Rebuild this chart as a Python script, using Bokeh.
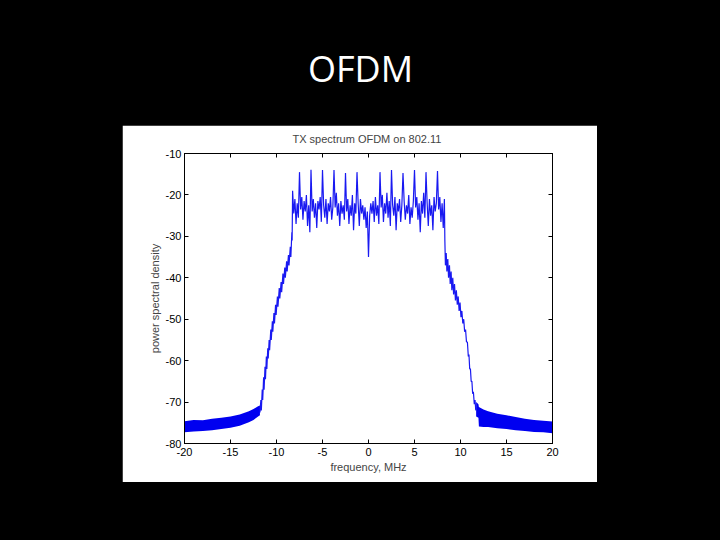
import numpy as np
from bokeh.plotting import figure
from bokeh.models import LinearAxis, Range1d, Spacer, FixedTicker, CustomLabelingPolicy
from bokeh.layouts import column, row
from bokeh.core.properties import value
from bokeh.embed import file_html
from bokeh.resources import INLINE

# ---------------- data ----------------
slide_title = "OFDM"
chart_title = "TX spectrum OFDM  on 802.11"
x_label = "frequency, MHz"
y_label = "power spectral density"
x_ticks = [-20, -15, -10, -5, 0, 5, 10, 15, 20]
y_ticks = [-80, -70, -60, -50, -40, -30, -20, -10]

# left skirt (sawtooth slope)
left_slope_f = [-11.80, -11.70, -11.65, -11.55, -11.50, -11.40, -11.35, -11.25, -11.20, -11.10,
                -11.05, -10.95, -10.90, -10.80, -10.75, -10.62, -10.57, -10.45, -10.40, -10.28,
                -10.22, -10.10, -10.04, -9.90, -9.84, -9.70, -9.64, -9.50, -9.44, -9.30,
                -9.24, -9.10, -9.04, -8.90, -8.84, -8.70, -8.64, -8.50, -8.44, -8.33, -8.30]
left_slope_db = [-72.5, -69.5, -72.0, -67.0, -69.5, -64.0, -67.0, -61.5, -64.5, -59.0,
                 -62.0, -57.0, -59.5, -55.0, -57.5, -52.5, -55.0, -50.5, -53.0, -48.5,
                 -51.0, -46.5, -49.0, -44.5, -47.0, -42.5, -45.0, -41.0, -43.5, -39.0,
                 -41.5, -37.5, -40.0, -36.0, -38.5, -34.5, -37.0, -32.5, -35.0, -29.0, -31.0]

# occupied band, -8.25 .. 8.25 MHz in 0.125 MHz bins
band_db = [
    -19.0, -24.5, -21.0, -27.0, -22.0, -25.5,
    -14.5, -23.5, -20.5, -26.0, -21.5, -24.0, -20.0, -27.5, -22.5, -29.0,
    -13.9, -24.0, -21.0, -25.5, -22.0, -28.0, -21.5, -23.5, -20.5, -26.5,
    -14.0, -22.5, -25.5, -21.0, -27.0, -22.0, -24.0, -20.5, -26.0, -23.0,
    -14.0, -23.0, -19.5, -25.0, -22.0, -27.5, -21.5, -24.5, -22.5, -26.0,
    -14.7, -24.0, -21.0, -27.0, -22.5, -25.0, -20.0, -28.5, -22.0, -24.5,
    -14.5, -22.0, -27.5, -21.0, -24.5, -22.5, -26.0, -23.0, -28.0, -24.0,
    -35.0, -25.0, -22.0, -24.5, -21.5, -26.5, -20.5, -25.0, -22.5, -27.0,
    -14.5, -23.0, -20.0, -26.5, -22.0, -24.5, -19.5, -25.5, -21.5, -27.5,
    -14.0, -22.5, -25.0, -20.5, -28.5, -22.0, -24.0, -21.0, -26.5, -22.5,
    -14.7, -21.5, -26.0, -22.5, -24.5, -20.0, -27.0, -23.0, -25.5, -21.5,
    -14.0, -23.0, -20.5, -26.0, -22.0, -29.0, -21.5, -24.5, -19.5, -25.5,
    -14.5, -22.0, -27.5, -21.0, -25.0, -22.5, -28.5, -20.5, -24.0, -22.0,
    -14.2, -23.5, -20.5, -26.5, -22.0, -28.0, -21.0,
]
band_f = np.linspace(-8.25, 8.25, len(band_db))

# right skirt (sawtooth slope)
right_slope_f = [8.30, 8.36, 8.45, 8.52, 8.62, 8.70, 8.80, 8.88, 8.98, 9.06,
                 9.16, 9.25, 9.35, 9.45, 9.55, 9.65, 9.75, 9.85, 9.95, 10.05,
                 10.15, 10.25, 10.35, 10.45, 10.55, 10.65, 10.75, 10.85, 10.92, 11.00,
                 11.08, 11.16, 11.24, 11.32, 11.40, 11.50, 11.58, 11.66]
right_slope_db = [-31.0, -37.0, -34.0, -38.5, -35.5, -40.0, -37.0, -41.5, -38.5, -43.0,
                  -40.0, -44.0, -41.5, -45.5, -43.0, -46.5, -44.5, -48.0, -46.0, -49.5,
                  -48.0, -51.0, -50.0, -53.0, -52.5, -55.5, -55.5, -59.0, -58.5, -62.0,
                  -62.0, -65.0, -65.0, -68.0, -67.5, -70.5, -69.5, -72.0]

# noise floor (dense noise drawn as its envelope)
left_floor_f = [-20, -19, -18, -17, -16, -15, -14, -13, -12.5, -12, -11.8]
left_floor_hi = [-74.6, -74.3, -74.4, -74.0, -73.8, -73.5, -73.0, -72.2, -71.7, -71.0, -70.8]
left_floor_lo = [-77.3, -77.1, -77.0, -76.8, -76.5, -76.2, -75.7, -74.9, -74.3, -73.5, -73.2]

right_floor_f = [11.7, 11.95, 12.0, 12.5, 13, 14, 15, 16, 17, 18, 19, 20]
right_floor_hi = [-70.0, -70.5, -71.2, -71.8, -72.2, -72.8, -73.2, -73.6, -74.0, -74.3, -74.5, -74.7]
right_floor_lo = [-73.5, -73.8, -75.9, -76.0, -76.0, -76.3, -76.5, -76.8, -77.0, -77.2, -77.3, -77.5]

# ---------------- styling ----------------
FONT = "Liberation Sans"
BLUE = "#0000f0"

# slide title strip
top = figure(width=720, height=125, toolbar_location=None, output_backend="svg",
             x_range=Range1d(0, 720), y_range=Range1d(125, 0), min_border=0,
             background_fill_color="black", border_fill_color="black",
             outline_line_color=None)
top.axis.visible = False
top.grid.visible = False
top.text(x=[360], y=[68], text=[slide_title], text_align="center",
         text_baseline="middle", text_color="white",
         text_font=value("Open Sans"), text_font_size="36px")

# main chart
p = figure(width=475, height=357, toolbar_location=None, output_backend="svg",
           x_range=Range1d(-20, 20), y_range=Range1d(-80, -10),
           min_border_left=62, min_border_right=45, min_border_top=28, min_border_bottom=39,
           background_fill_color="white", border_fill_color="white",
           outline_line_color="black", outline_line_width=1)
p.title.text = chart_title
p.title.align = "center"
p.title.text_font = FONT
p.title.text_font_size = "11px"
p.title.text_font_style = "normal"
p.title.offset = 0
p.grid.visible = False

for ax in (p.xaxis[0], p.yaxis[0]):
    ax.major_tick_in = 4
    ax.major_tick_out = 0
    ax.minor_tick_line_color = None
    ax.major_label_text_font = FONT
    ax.major_label_text_font_size = "11px"
    ax.major_label_text_color = "black"
    ax.axis_label_text_font = FONT
    ax.axis_label_text_font_size = "11px"
    ax.axis_label_text_font_style = "normal"
    ax.axis_line_color = "black"
p.xaxis[0].ticker = FixedTicker(ticks=x_ticks)
p.yaxis[0].ticker = FixedTicker(ticks=y_ticks)
# plain hyphen-minus, as in the original MATLAB figure
p.xaxis[0].major_label_overrides = {t: str(t) for t in x_ticks}
p.yaxis[0].major_label_overrides = {t: str(t) for t in y_ticks}
p.xaxis[0].axis_label = x_label
p.yaxis[0].axis_label = y_label
p.xaxis[0].major_label_standoff = 4
p.yaxis[0].major_label_standoff = 3
p.xaxis[0].axis_label_standoff = 2
p.yaxis[0].axis_label_standoff = 2

# box ticks on the top and right sides (ticks only, no labels)
for side, ticks in (("right", y_ticks), ("above", x_ticks)):
    ax = LinearAxis(ticker=FixedTicker(ticks=ticks), major_tick_in=4, major_tick_out=0,
                    minor_tick_line_color=None, major_label_text_font_size="1px",
                    major_label_policy=CustomLabelingPolicy(code="return [];"),
                    major_label_standoff=0, axis_line_color="black")
    p.add_layout(ax, side)

p.varea(x=left_floor_f, y1=left_floor_lo, y2=left_floor_hi, fill_color=BLUE)
p.varea(x=right_floor_f, y1=right_floor_lo, y2=right_floor_hi, fill_color=BLUE)

full_f = list(left_slope_f) + list(band_f) + list(right_slope_f)
full_db = list(left_slope_db) + list(band_db) + list(right_slope_db)
p.line(full_f, full_db, line_color=BLUE, line_width=1.2, line_alpha=0.9)

layout = column(
    top,
    row(Spacer(width=122, height=357), p, Spacer(width=123, height=357)),
    Spacer(width=720, height=58),
    width=720, height=540, styles={"background-color": "black"},
)

open("out.html", "w").write(file_html(layout, INLINE))
